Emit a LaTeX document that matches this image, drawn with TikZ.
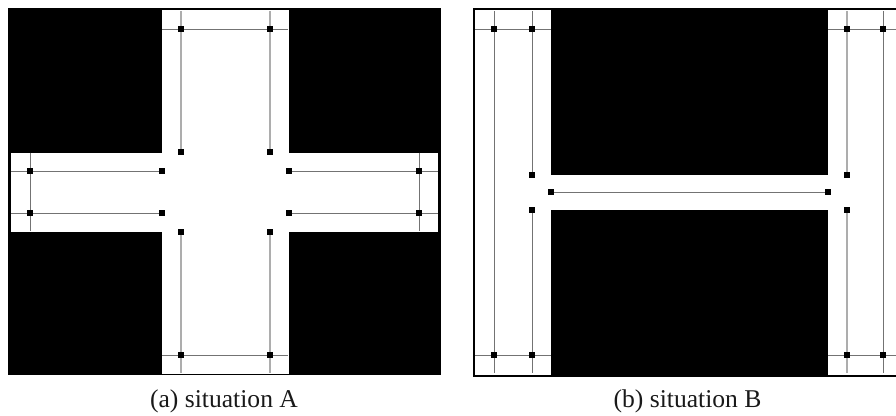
\documentclass[tikz,border=0pt]{standalone}
\usepackage{fontspec}
\setmainfont{Liberation Serif}
\tikzset{
  pt/.style={fill=black,draw=none,inner sep=0pt,minimum size=5.3pt,rectangle},
  wire/.style={draw=black!55,line width=0.9pt},
  lightwire/.style={draw=black!32,line width=1.4pt},
  captiontext/.style={font=\fontsize{25.6}{28}\selectfont,inner sep=0pt,text=black!90,anchor=base}
}
\begin{document}
\begin{tikzpicture}[x=1pt,y=-1pt]
\useasboundingbox (0,0) rectangle (896,415);
\clip (0,0) rectangle (896,415);
% situation A background
\fill[black] (8,8) rectangle (441,375);
\fill[white] (162,10) rectangle (289,374);
\fill[white] (11,152.5) rectangle (438,231.7);
% situation B background
\fill[black] (472.5,8) rectangle (896,377);
\fill[white] (475,10) rectangle (551.3,375);
\fill[white] (828,10) rectangle (896,375);
\fill[white] (551,175) rectangle (828,209.6);
% nodes A
\foreach \n/\x/\y in {
  a1/181/29,a2/270/29,a3/181/152,a4/270/152,
  a5/181/232,a6/270/232,a7/181/355,a8/270/355,
  a9/30/171,a10/162/171,a11/30/213,a12/162/213,
  a13/289/171,a14/419/171,a15/289/213,a16/419/213}
  {\node[pt] (\n) at (\x,\y) {};}
% nodes B
\foreach \n/\x/\y in {
  b1/494/29,b2/532/29,b3/847/29,b4/883/29,
  b5/532/175,b6/532/210,b7/847/175,b8/847/210,
  b9/551/192,b10/828/192,
  b11/494/355,b12/532/355,b13/847/355,b14/883/355}
  {\node[pt] (\n) at (\x,\y) {};}
% free ends A
\foreach \n/\x/\y in {
  p1/181/11,p2/270/11,p3/181/373,p4/270/373,
  p5/162/29,p6/288/29,p7/162/355,p8/288/355,
  p9/30/152.5,p10/30/231,p11/419/152.5,p12/419/231,
  p13/11/171,p14/11/213,p15/438/171,p16/438/213}
  {\coordinate (\n) at (\x,\y);}
% free ends B
\foreach \n/\x/\y in {
  q1/494/11,q2/532/11,q3/847/11,q4/883/11,
  q5/494/373,q6/532/373,q7/847/373,q8/883/373,
  q9/475/29,q10/551/29,q11/828/29,q12/896/29,
  q13/475/355,q14/551/355,q15/828/355,q16/896/355}
  {\coordinate (\n) at (\x,\y);}
% connectors A
\draw[wire] (p5) -- (a1) -- (a2) -- (p6);
\draw[wire] (p7) -- (a7) -- (a8) -- (p8);
\draw[lightwire] (p1) -- (a1) -- (a3);
\draw[lightwire] (p2) -- (a2) -- (a4);
\draw[lightwire] (a5) -- (a7) -- (p3);
\draw[lightwire] (a6) -- (a8) -- (p4);
\draw[wire] (p9) -- (a9) -- (a11) -- (p10);
\draw[wire] (p11) -- (a14) -- (a16) -- (p12);
\draw[wire] (p13) -- (a9) -- (a10);
\draw[wire] (p14) -- (a11) -- (a12);
\draw[wire] (a13) -- (a14) -- (p15);
\draw[wire] (a15) -- (a16) -- (p16);
% connectors B
\draw[wire] (q1) -- (b1) -- (b11) -- (q5);
\draw[wire] (q2) -- (b2) -- (b5);
\draw[wire] (b6) -- (b12) -- (q6);
\draw[lightwire] (q3) -- (b3) -- (b7);
\draw[lightwire] (b8) -- (b13) -- (q7);
\draw[wire] (q4) -- (b4) -- (b14) -- (q8);
\draw[wire] (q9) -- (b1) -- (b2) -- (q10);
\draw[wire] (q11) -- (b3) -- (b4) -- (q12);
\draw[wire] (q13) -- (b11) -- (b12) -- (q14);
\draw[wire] (q15) -- (b13) -- (b14) -- (q16);
\draw[wire] (b9) -- (b10);
% captions
\node[captiontext] (capa) at (224,407.5) {(a) situation A};
\node[captiontext] (capb) at (687.5,407.5) {(b) situation B};
\end{tikzpicture}
\end{document}
